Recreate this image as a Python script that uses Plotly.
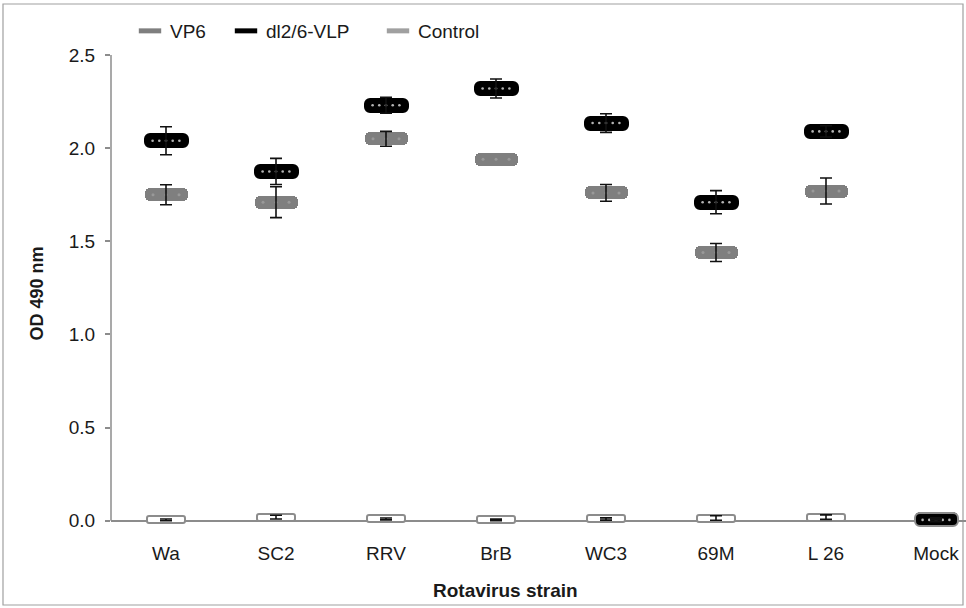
import plotly.graph_objects as go

# ---------------- data ----------------
categories = ["Wa", "SC2", "RRV", "BrB", "WC3", "69M", "L 26", "Mock"]
vp6 = [1.75, 1.71, 2.05, 1.94, 1.76, 1.44, 1.77, 0.01]
vp6_err = [0.054, 0.083, 0.04, None, 0.045, 0.048, 0.07, None]
vlp = [2.04, 1.875, 2.23, 2.32, 2.135, 1.71, 2.09, 0.005]
vlp_err = [0.075, 0.07, 0.043, 0.051, 0.05, 0.062, 0.03, 0.01]
ctrl = [0.005, 0.02, 0.01, 0.005, 0.01, 0.015, 0.02, 0.01]
ctrl_err = [0.005, 0.01, 0.005, 0.004, 0.006, 0.012, 0.012, 0.005]
y_ticks = [0.0, 0.5, 1.0, 1.5, 2.0, 2.5]

# ---------------- geometry helpers ----------------
W, H = 966, 608
ML, MR, MT, MB = 111, 0, 55, 76
Y_RANGE = [-0.06, 2.5]
PX_PER_CAT = 110
PW = W - ML - MR
PH = H - MT - MB
X_RANGE = [-0.5, -0.5 + PW / PX_PER_CAT]
px_per_unit = PH / (Y_RANGE[1] - Y_RANGE[0])


def h_units(px):
    return px / px_per_unit


def w_units(px):
    return px / PX_PER_CAT


xs = list(range(len(categories)))

fig = go.Figure()


def add_pill(vals, fill, height_px, width_px, radius, line_color=None, line_width=0, name=""):
    h = h_units(height_px)
    fig.add_trace(go.Bar(
        x=xs, y=[h] * len(vals), base=[v - h / 2 for v in vals],
        width=w_units(width_px),
        marker=dict(color=fill, cornerradius=radius,
                    line=dict(color=line_color if line_color else fill, width=line_width)),
        showlegend=False, hoverinfo="skip", name=name,
    ))


# bars as rounded "pill" markers
add_pill(vp6, "#7f7f7f", 13, 43, 5, name="VP6")
add_pill(ctrl, "#ffffff", 7, 38, 2, line_color="#8c8c8c", line_width=2, name="Control")
vlp_line_colors = ["#000000"] * (len(vlp) - 1) + ["#8c8c8c"]
h_vlp = h_units(13)
fig.add_trace(go.Bar(
    x=xs, y=[h_vlp] * len(vlp), base=[v - h_vlp / 2 for v in vlp],
    width=w_units(43),
    marker=dict(color="#000000", cornerradius=5,
                line=dict(color=vlp_line_colors, width=2)),
    showlegend=False, hoverinfo="skip", name="dl2/6-VLP",
))


# dotted pattern inside pills
def add_dots(vals, n, spacing_px, color, size):
    dx, dy = [], []
    for i, v in zip(xs, vals):
        for k in range(n):
            off = (k - (n - 1) / 2) * w_units(spacing_px)
            dx.append(i + off)
            dy.append(v)
    fig.add_trace(go.Scatter(x=dx, y=dy, mode="markers",
                             marker=dict(color=color, size=size, line=dict(width=0)),
                             showlegend=False, hoverinfo="skip"))


add_dots(vp6[:-1], 3, 13, "#999999", 3)
add_dots(vlp, 5, 6.7, "#b5b5b5", 2.6)


# error bars
def add_err(xv, vals, errs):
    fig.add_trace(go.Scatter(
        x=xv, y=vals, mode="markers",
        marker=dict(size=1, color="rgba(0,0,0,0)"),
        error_y=dict(type="data", array=errs, visible=True, color="#111111",
                     thickness=1.6, width=6),
        showlegend=False, hoverinfo="skip"))


vp6_idx = [i for i in xs if vp6_err[i] is not None]
add_err(vp6_idx, [vp6[i] for i in vp6_idx], [vp6_err[i] for i in vp6_idx])
add_err(xs, ctrl, ctrl_err)
add_err(xs, vlp, vlp_err)

# legend entries, each in its own legend box
legend_items = [("VP6", "#7f7f7f", "legend", 130),
                ("dl2/6-VLP", "#000000", "legend2", 226),
                ("Control", "#a0a0a0", "legend3", 378)]
legend_layout = {}
for nm, col, lg, xpx in legend_items:
    fig.add_trace(go.Scatter(
        x=[None], y=[None], mode="markers", name=nm, legend=lg,
        marker=dict(symbol="line-ew", size=17, color=col,
                    line=dict(color=col, width=7 if nm != "Control" else 5)),
    ))
    legend_layout[lg] = dict(orientation="h", x=(xpx - ML) / PW, xanchor="left",
                             y=1 + (MT - 31) / PH, yanchor="middle",
                             font=dict(size=19), bgcolor="rgba(0,0,0,0)",
                             itemwidth=30)

# y-axis line from 0 to 2.5 and outer frame
fig.add_shape(type="line", xref="paper", yref="y", x0=0, x1=0, y0=0, y1=2.5,
              line=dict(color="#8c8c8c", width=1.5))
fig.add_shape(type="rect", xref="paper", yref="paper",
              x0=(3 - ML) / PW, x1=(963 - ML) / PW,
              y0=-(MB - 3) / PH, y1=1 + (MT - 4) / PH,
              line=dict(color="#a0a0a0", width=1.2), layer="below")

fig.add_annotation(text="<b>Rotavirus strain</b>", xref="paper", yref="paper",
                   x=(505 - ML) / PW, y=-(590 - (H - MB)) / PH,
                   xanchor="center", yanchor="middle", showarrow=False,
                   font=dict(size=19, color="#1a1a1a"))

fig.update_layout(
    width=W, height=H,
    margin=dict(l=ML, r=MR, t=MT, b=MB, autoexpand=False),
    paper_bgcolor="white", plot_bgcolor="white",
    barmode="overlay", bargap=0,
    font=dict(family="Liberation Sans, Arial, sans-serif", size=19, color="#1a1a1a"),
    showlegend=True,
    xaxis=dict(range=X_RANGE, tickmode="array", tickvals=xs, ticktext=categories,
               showgrid=False, showline=False, ticks="", zeroline=False,
               ticklabelstandoff=8, fixedrange=True),
    yaxis=dict(range=Y_RANGE, tickmode="array", tickvals=y_ticks,
               ticktext=[f"{v:.1f}" for v in y_ticks],
               showgrid=False, showline=False, zeroline=True, zerolinecolor="#8c8c8c",
               zerolinewidth=1.5, ticks="outside", ticklen=5, tickcolor="#8c8c8c",
               tickwidth=1.5, ticklabelstandoff=6,
               title=dict(text="<b>OD 490 nm</b>", font=dict(size=18), standoff=20)),
    **legend_layout,
)

fig.write_html("out.html")
